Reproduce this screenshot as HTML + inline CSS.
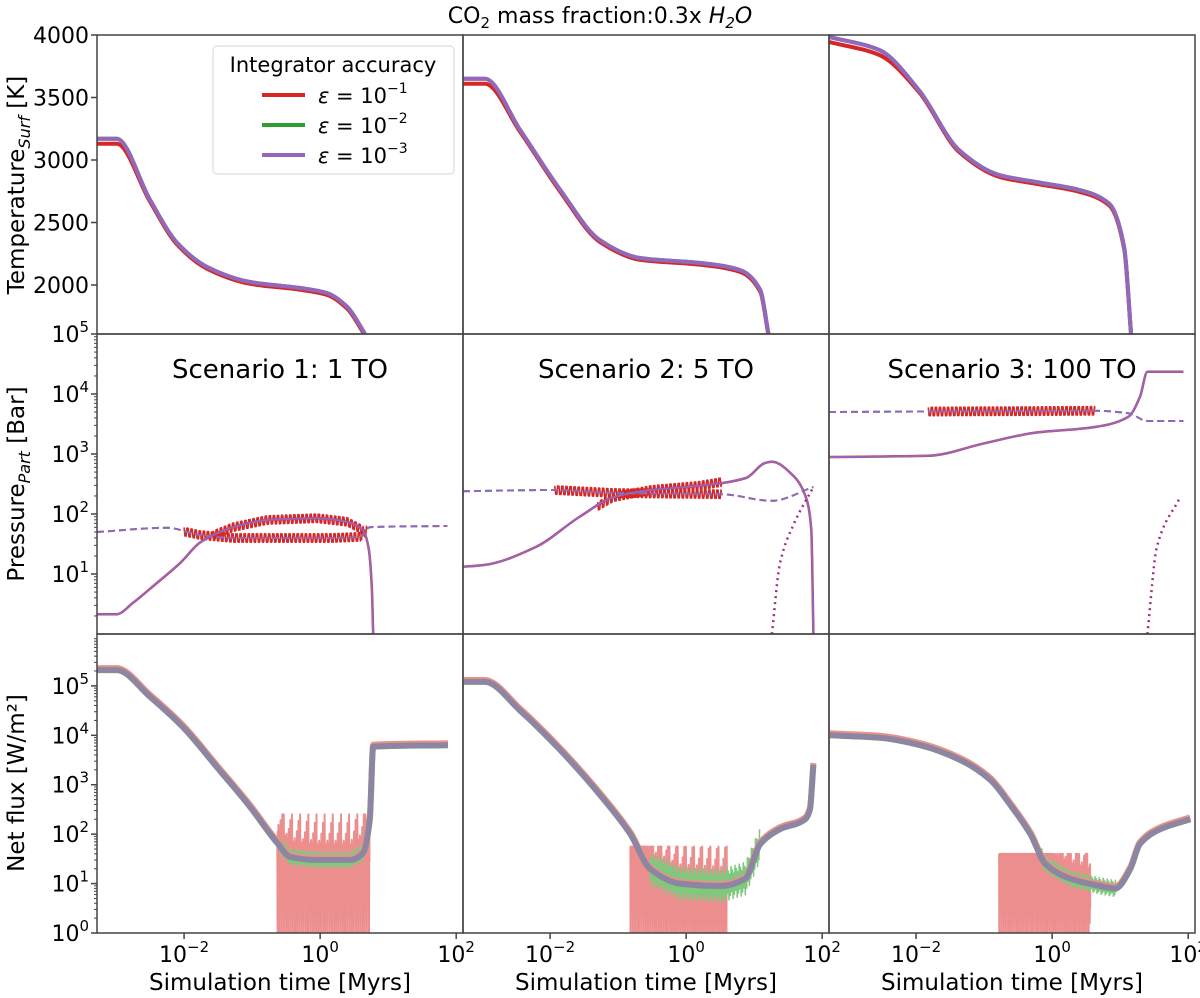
<!DOCTYPE html>
<html><head><meta charset="utf-8"><style>
body{margin:0;background:#fff;}
svg{display:block;font-family:"DejaVu Sans","Liberation Sans",sans-serif;}
</style></head><body>
<svg id="fig" width="1200" height="998" xmlns="http://www.w3.org/2000/svg">
<text x="600" y="23" text-anchor="middle" font-size="22">CO<tspan font-size="15" dy="5">2</tspan><tspan dy="-5"> mass fraction:0.3x </tspan><tspan font-style="italic">H</tspan><tspan font-size="15" dy="5" font-style="italic">2</tspan><tspan dy="-5" font-style="italic">O</tspan></text>
<g id="plots"></g>
</svg>
<script>
// ---- data (log10 time in Myrs) ----
const tempTime1=[-3.28,-2.99,-2.50,-2.10,-1.66,-1.03,-0.29,0.10,0.40,0.66];
const tempVal1=[3170,3170,2680,2336,2144,2024,1976,1936,1824,1610];
const tempTime2=[-3.28,-2.96,-2.44,-1.85,-1.27,-0.68,0.21,0.79,1.09,1.21];
const tempVal2=[3650,3650,3240,2760,2360,2216,2176,2120,1960,1610];
const tempTime3=[-3.28,-2.54,-1.96,-1.37,-0.78,-0.19,0.40,0.84,1.06,1.16];
const tempVal3=[3985,3880,3560,3080,2880,2820,2760,2650,2300,1610];

const presSolidTime1=[-3.28,-2.99,-2.75,-2.40,-2.06,-1.77,-1.57,-1.28,-0.78,-0.05,0.40,0.63,0.71,0.76,0.78];
const presSolidVal1=[0.33,0.33,0.52,0.85,1.18,1.52,1.65,1.78,1.90,1.93,1.87,1.73,1.45,0.78,0];
const presDashTime1=[-3.28,-2.25,-1.77,-1.28,0.19,0.59,0.73,1.87];
const presDashVal1=[1.70,1.77,1.65,1.60,1.60,1.62,1.78,1.80];
const presSolidTime2=[-3.28,-2.97,-2.21,-1.57,-1.07,-0.52,0.19,0.88,1.16,1.26,1.59,1.76,1.84,1.87];
const presSolidVal2=[1.12,1.15,1.45,1.95,2.28,2.40,2.47,2.60,2.85,2.87,2.62,2.28,1.73,0];
const presDashTime2=[-3.28,-1.93,-1.07,0.53,1.26,1.87];
const presDashVal2=[2.38,2.40,2.35,2.33,2.22,2.45];
const presDotTime2=[1.26,1.38,1.59,1.87];
const presDotVal2=[0,1.18,1.85,2.45];
const presSolidTime3=[-3.28,-1.82,-0.99,-0.28,0.63,1.12,1.29,1.40,1.93];
const presSolidVal3=[2.95,2.97,3.18,3.35,3.45,3.62,3.95,4.37,4.37];
const presDashTime3=[-3.28,0.63,1.12,1.40,1.93];
const presDashVal3=[3.70,3.72,3.68,3.55,3.55];
const presDotTime3=[1.40,1.54,1.88];
const presDotVal3=[0,1.45,2.28];
const redBand1=[[-2.0,0.70,'dash'],[-1.57,0.66,'solid']];
const redBand2=[[-1.93,0.53,'dash'],[-1.3,0.53,'solid']];
const redBand3=[[-1.82,0.63,'dash']];

const fluxTime1=[-3.28,-2.99,-2.50,-2.02,-1.52,-1.03,-0.63,-0.44,-0.05,0.44,0.63,0.73,0.78,1.88];
const fluxVal1=[5.32,5.32,4.78,4.17,3.36,2.55,1.82,1.54,1.48,1.48,1.62,2.29,3.77,3.80];
const fluxTime2=[-3.28,-2.96,-2.44,-1.85,-1.27,-0.82,-0.53,-0.09,0.50,0.87,1.09,1.38,1.75,1.82,1.87];
const fluxVal2=[5.08,5.08,4.5,3.7,2.8,2.0,1.3,1.0,0.95,1.1,1.8,2.1,2.3,2.5,3.4];
const fluxTime3=[-3.28,-2.53,-1.94,-1.35,-0.91,-0.62,-0.32,-0.10,0.26,0.71,0.93,1.15,1.29,1.59,2.03];
const fluxVal3=[4.0,3.95,3.8,3.5,3.1,2.6,2.0,1.4,1.1,0.95,0.9,1.3,1.8,2.1,2.3];
const fluxNoise=[[-0.63,0.73,2.4],[-0.82,0.60,1.75],[-0.78,0.56,1.6]];
const greenNoise=[[-0.60,0.75,0.15],[-0.53,1.09,0.3],[-0.2,0.95,0.15]];

const xTickLabels=['−2','0','2'];
const xTickVals=[-2,0,2];
const tempTicks=[2000,2500,3000,3500,4000];
const logTicksP=[1,2,3,4,5];
const logTicksF=[0,1,2,3,4,5];
const scenarioTitles=['Scenario 1: 1 TO','Scenario 2: 5 TO','Scenario 3: 100 TO'];

const NS='http://www.w3.org/2000/svg';
const colX=[97,463,829], colW=366;
const rowTop=[35,334,634], rowBot=[334,634,933];
const XMIN=-3.28, XMAX=2.1;
const g=document.getElementById('plots');
function el(t,a,p){const e=document.createElementNS(NS,t);for(const k in a)e.setAttribute(k,a[k]);(p||g).appendChild(e);return e;}
function xs(c,v){return colX[c]+(v-XMIN)/(XMAX-XMIN)*colW;}
function yT(v){return rowTop[0]+(4000-v)/(4000-1608)*(rowBot[0]-rowTop[0]);}
function yP(v){return rowBot[1]-v/5*(rowBot[1]-rowTop[1]);}
function yF(v){return rowBot[2]-v/6.05*(rowBot[2]-rowTop[2]);}
function smoothPath(P){const n=P.length;const f=v=>v.toFixed(1);
  if(n<3)return 'M'+P.map(p=>f(p[0])+','+f(p[1])).join(' L');
  const dx=[],dy=[],s=[];for(let i=0;i<n-1;i++){dx.push(P[i+1][0]-P[i][0]);dy.push(P[i+1][1]-P[i][1]);s.push(dy[i]/Math.max(dx[i],1e-6));}
  const m=[s[0]];for(let i=1;i<n-1;i++){m.push(s[i-1]*s[i]<=0?0:(dx[i-1]+dx[i])*3/((2*dx[i]+dx[i-1])/s[i-1]+(dx[i]+2*dx[i-1])/s[i]));}m.push(s[n-2]);
  let d='M'+f(P[0][0])+','+f(P[0][1]);
  for(let i=0;i<n-1;i++){const h=dx[i]/3;
    d+=' C'+f(P[i][0]+h)+','+f(P[i][1]+m[i]*h)+' '+f(P[i+1][0]-h)+','+f(P[i+1][1]-m[i+1]*h)+' '+f(P[i+1][0])+','+f(P[i+1][1]);}
  return d;}
function interp(tx,vy,t){for(let i=0;i<tx.length-1;i++){if(t>=tx[i]&&t<=tx[i+1]){return vy[i]+(vy[i+1]-vy[i])*(t-tx[i])/(tx[i+1]-tx[i]);}}return vy[vy.length-1];}
function line(c,tx,vy,fy,col,w,name,extra,raw){
  const P=tx.map((t,i)=>[xs(c,t),fy(vy[i])]);
  const d=raw?'M'+P.map(p=>p[0].toFixed(1)+','+p[1].toFixed(1)).join(' L'):smoothPath(P);
  const p=el('path',Object.assign({d:d,fill:'none',stroke:col,'stroke-width':w,'stroke-linejoin':'round'},extra||{}));
  
  return p;}

const RED='#d62728',GREEN='#2ca02c',PURP='#9467bd';
const T=[[tempTime1,tempVal1],[tempTime2,tempVal2],[tempTime3,tempVal3]];
const PS=[[presSolidTime1,presSolidVal1],[presSolidTime2,presSolidVal2],[presSolidTime3,presSolidVal3]];
const PD=[[presDashTime1,presDashVal1],[presDashTime2,presDashVal2],[presDashTime3,presDashVal3]];
const PDot=[null,[presDotTime2,presDotVal2],[presDotTime3,presDotVal3]];
const RB=[redBand1,redBand2,redBand3];
const F=[[fluxTime1,fluxVal1],[fluxTime2,fluxVal2],[fluxTime3,fluxVal3]];

for(let c=0;c<3;c++){
  for(let r=0;r<3;r++){
    const cp=el('clipPath',{id:'cp'+c+r});
    el('rect',{x:colX[c],y:rowTop[r],width:colW,height:rowBot[r]-rowTop[r]},cp);
  }
  const gt=el('g',{'clip-path':'url(#cp'+c+'0)'});
  
  
  const tv=T[c][1].map((v,i)=>v-(i<2?40:14));
  gt.appendChild(line(c,T[c][0],tv,yT,RED,4,'temp-line-eps1'));
  gt.appendChild(line(c,T[c][0],T[c][1],yT,GREEN,4,'temp-line-eps2'));
  gt.appendChild(line(c,T[c][0],T[c][1],yT,PURP,4,'temp-line-eps3'));
  const gp=el('g',{'clip-path':'url(#cp'+c+'1)'});
  
  
  RB[c].forEach(b=>{
    const src=b[2]==='dash'?PD[c]:PS[c];
    const tt=[],vv=[];let k=0;
    for(let t=b[0];t<=b[1];t+=0.006){tt.push(t);vv.push(interp(src[0],src[1],t)+(((k*7)%5)-2)*0.035*(k%2?1:-1));k++;}
    gp.appendChild(line(c,tt,vv,yP,RED,1.6,'pressure-noise-eps1',null,true));
  });
  gp.appendChild(line(c,PS[c][0],PS[c][1],yP,RED,2.5,'pressure-h2o-eps1'));
  gp.appendChild(line(c,PS[c][0],PS[c][1],yP,PURP,2,'pressure-h2o-eps3'));
  gp.appendChild(line(c,PD[c][0],PD[c][1],yP,GREEN,2,'pressure-co2-eps2',{'stroke-dasharray':'7 4'}));
  gp.appendChild(line(c,PD[c][0],PD[c][1],yP,PURP,2,'pressure-co2-eps3',{'stroke-dasharray':'7 4'}));
  if(PDot[c]) gp.appendChild(line(c,PDot[c][0],PDot[c][1],yP,'#a0307a',2.5,'pressure-dotted-line',{'stroke-dasharray':'2 4'}));
  const st=el('text',{x:colX[c]+colW/2,y:rowTop[1]+44,'text-anchor':'middle','font-size':26});
  st.textContent=scenarioTitles[c];
  
  
  const gf=el('g',{'clip-path':'url(#cp'+c+'2)'});
  
  
  const n=fluxNoise[c];
  {const tt=[],vv=[];let k=0;
   for(let t=n[0];t<=n[1];t+=0.008){const b=interp(F[c][0],F[c][1],t);
     tt.push(t);vv.push(Math.min(n[2],b+0.1+((k*7)%5)*0.12*((k%3)===0?1.8:0.6)));
     tt.push(t+0.004);vv.push((k*3)%4===0?-0.2:Math.min(n[2]-0.4,b-0.2-((k*5)%3)*0.3));k++;}
   gf.appendChild(line(c,tt,vv,yF,'#ec8e8e',2,'flux-noise-eps1',null,true));}
  const gn=greenNoise[c];
  {const tt=[],vv=[];let k=0;
   for(let t=gn[0];t<=gn[1];t+=0.01){const b=interp(F[c][0],F[c][1],t);tt.push(t);vv.push(b+(k%2?gn[2]:-gn[2])*(0.6+((k*7)%3)*0.25));k++;}
   gf.appendChild(line(c,tt,vv,yF,'#7fc97f',1.5,'flux-noise-eps2',null,true));}
  gf.appendChild(line(c,F[c][0],F[c][1].map(v=>v+0.04),yF,'#ec8e8e',6,'flux-line-eps1'));
  gf.appendChild(line(c,F[c][0],F[c][1],yF,'#7a9a70',6,'flux-line-eps2'));
  gf.appendChild(line(c,F[c][0],F[c][1],yF,'#8f84a8',5,'flux-line-eps3'));
  for(let r=0;r<3;r++){
    const fr=el('rect',{x:colX[c],y:rowTop[r],width:colW,height:rowBot[r]-rowTop[r],fill:'none',stroke:'#444','stroke-width':1.5});
    
    
  }
  xTickVals.forEach((v,i)=>{
    const x=xs(c,v);
    el('line',{x1:x,x2:x,y1:933,y2:939,stroke:'#444','stroke-width':1.5});
    const tx=el('text',{x:x,y:962,'text-anchor':'middle','font-size':22});
    tx.innerHTML='10<tspan font-size="15" dy="-10">'+xTickLabels[i]+'</tspan>';
    
    
  });
  const xl=el('text',{x:colX[c]+colW/2,y:990,'text-anchor':'middle','font-size':23});
  xl.textContent='Simulation time [Myrs]';
  
  
}
function ytick(y,html,name){el('line',{x1:91,x2:97,y1:y,y2:y,stroke:'#444','stroke-width':1.5});
  const t=el('text',{x:89,y:y+8,'text-anchor':'end','font-size':22});t.innerHTML=html;
  
  }
tempTicks.forEach(v=>ytick(yT(v),String(v),'temp-tick-label'));
logTicksP.forEach(v=>ytick(yP(v),'10<tspan font-size="15" dy="-10">'+v+'</tspan>','pressure-tick-label'));
logTicksF.forEach(v=>ytick(yF(v),'10<tspan font-size="15" dy="-10">'+v+'</tspan>','flux-tick-label'));
[[yP,5],[yF,6]].forEach(([f,n])=>{for(let d=0;d<n;d++)for(let m=2;m<10;m++){const y=f(d+Math.log10(m));if(y>=rowTop[1])el('line',{x1:94,x2:97,y1:y,y2:y,stroke:'#444','stroke-width':1});}});
function ytitle(y,html,name){const t=el('text',{transform:'translate(24,'+y+') rotate(-90)','text-anchor':'middle','font-size':23});t.innerHTML=html;
  
  }
ytitle(185,'Temperature<tspan font-size="16" font-style="italic" dy="6">Surf</tspan><tspan dy="-6"> [K]</tspan>','y-axis-title-temperature');
ytitle(484,'Pressure<tspan font-size="16" font-style="italic" dy="6">Part</tspan><tspan dy="-6"> [Bar]</tspan>','y-axis-title-pressure');
ytitle(783,'Net flux [W/m²]','y-axis-title-flux');
const lg=el('g',{});


el('rect',{x:213,y:46,width:241,height:128,rx:4,fill:'#fff',stroke:'#ddd','stroke-width':1.2},lg);
const lt=el('text',{x:333,y:72,'text-anchor':'middle','font-size':21},lg);lt.textContent='Integrator accuracy';
[[RED,'1'],[GREEN,'2'],[PURP,'3']].forEach((s,i)=>{
  const y=95+i*30;
  const ll=el('line',{x1:262,x2:305,y1:y,y2:y,stroke:s[0],'stroke-width':4},lg);
  
  
  const tt=el('text',{x:318,y:y+8,'font-size':21},lg);
  tt.innerHTML='<tspan font-style="italic">ε</tspan> = 10<tspan font-size="14" dy="-10">−'+s[1]+'</tspan>';
});
</script>
</body></html>
